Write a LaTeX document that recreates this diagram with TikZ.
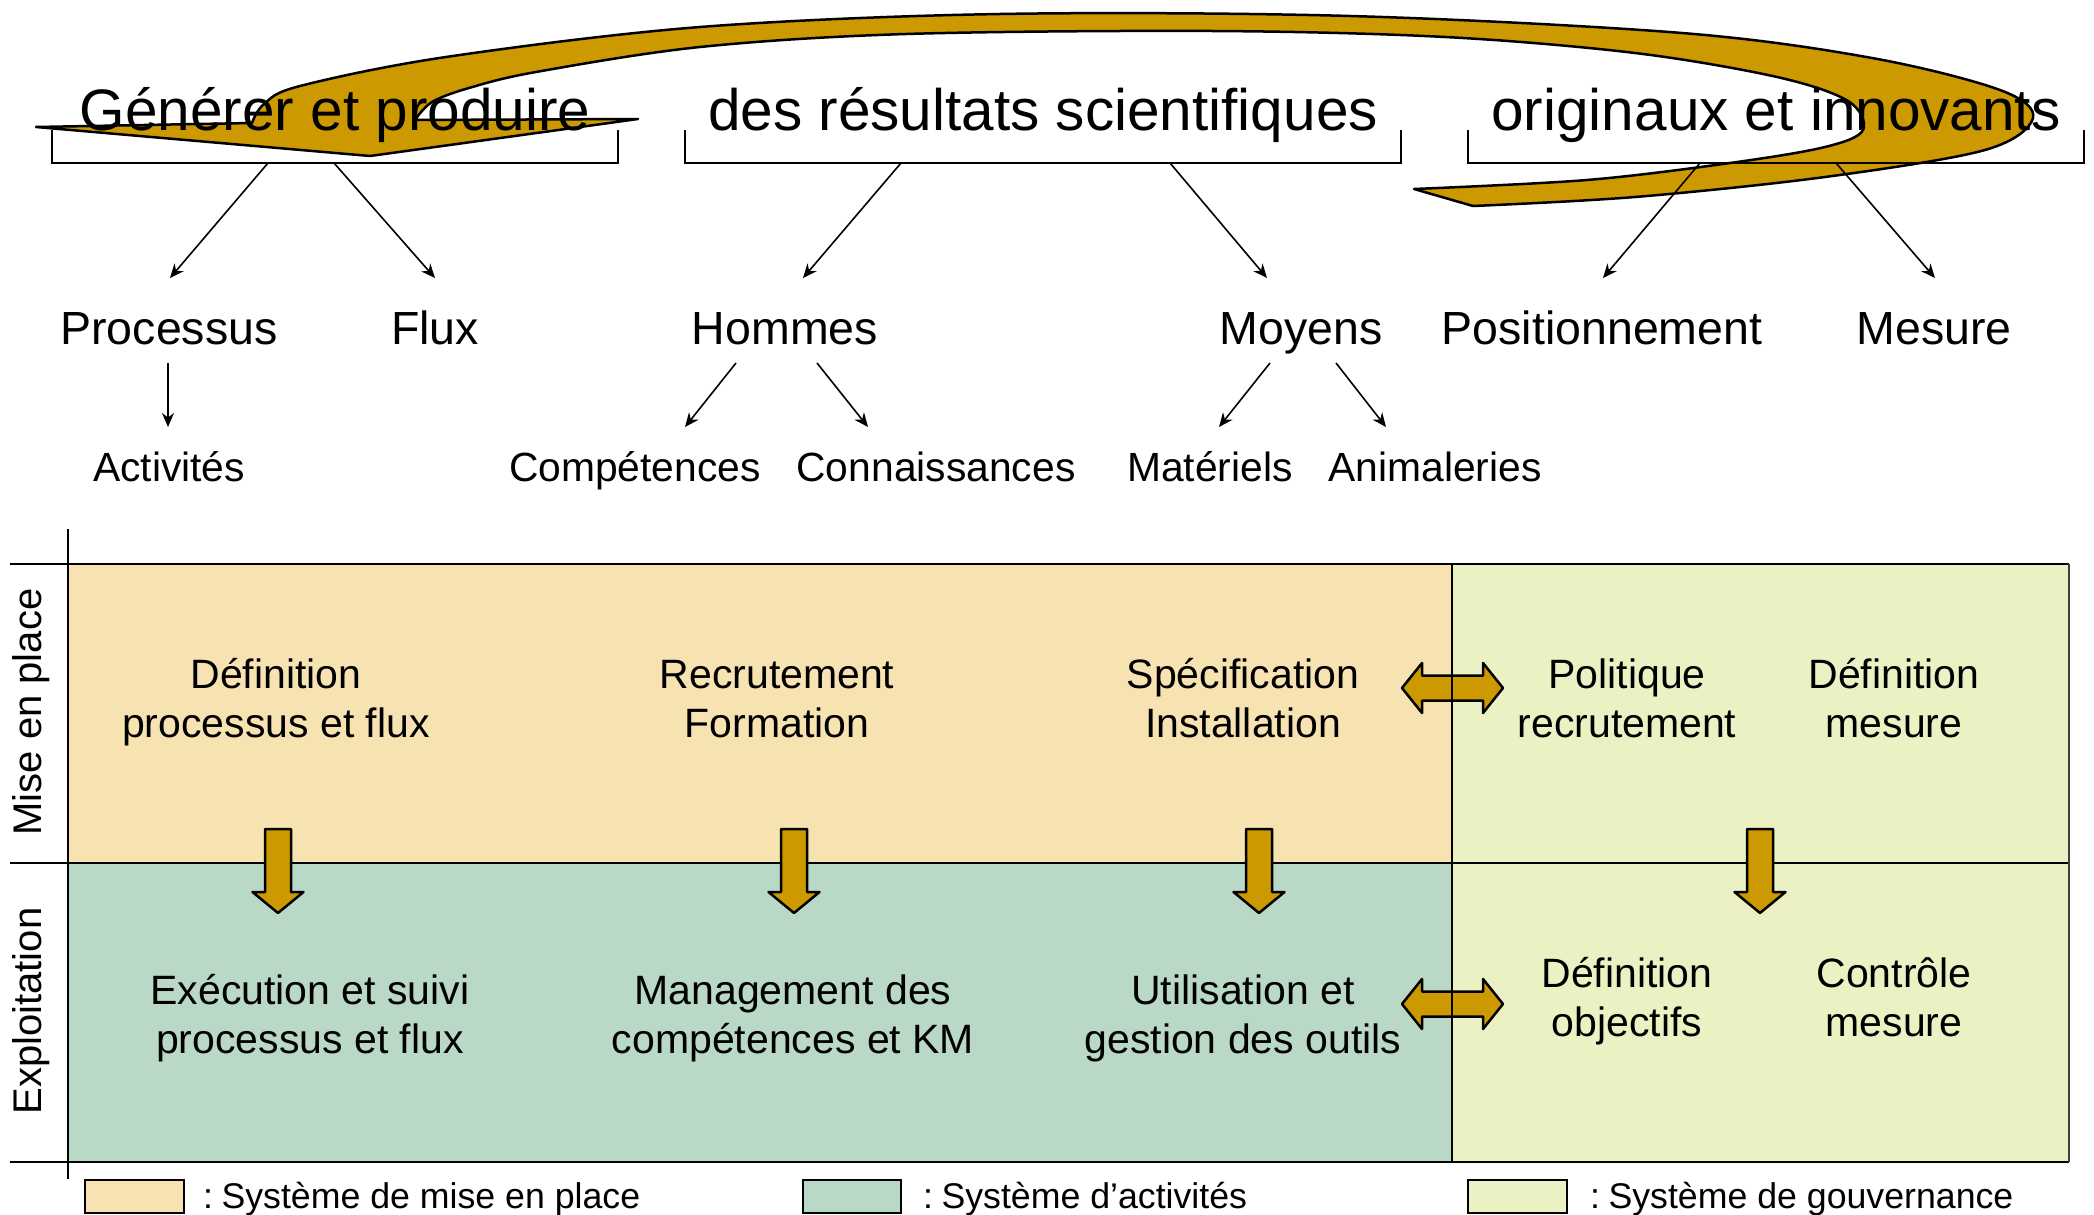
\documentclass[tikz,border=0pt]{standalone}
\usepackage{fontspec}
\setmainfont{Liberation Sans}
\usetikzlibrary{arrows.meta}
\definecolor{gold}{HTML}{CC9900}
\definecolor{orfill}{RGB}{247,226,178}
\definecolor{grfill}{RGB}{186,216,198}
\definecolor{ygfill}{RGB}{236,241,196}
\tikzset{
  titletext/.style={font=\fontsize{58.5}{70}\selectfont, anchor=base, inner sep=0},
  lvtwo/.style={font=\fontsize{46.5}{56}\selectfont, anchor=base, inner sep=0},
  lvthree/.style={font=\fontsize{40.8}{49}\selectfont, anchor=base, inner sep=0},
  celltext/.style={font=\fontsize{41}{49}\selectfont, align=center, anchor=base, inner sep=0},
  sidetext/.style={font=\fontsize{40}{48}\selectfont, rotate=90, inner sep=0},
  legtext/.style={font=\fontsize{35.7}{43}\selectfont, anchor=base west, inner sep=0},
  bracketline/.style={line width=2pt},
  thinarrow/.style={line width=1.6pt, -{Stealth[length=14pt,width=12pt]}},
  tableline/.style={line width=2.6pt},
  goldshape/.style={fill=gold, draw=black, line width=2.5pt, line join=round},
  legbox/.style={draw=black, line width=2pt},
}
\begin{document}
\begin{tikzpicture}[x=1pt,y=-1pt]
\useasboundingbox (0,0) rectangle (2094,1215);

% ---------- big curved arrow ----------
\draw[goldshape] (36,127) -- (252,123)
  -- plot[smooth, tension=0.55] coordinates {(252,123) (264,104) (300,86) (446,57) (700,27) (1000,14) (1350,16) (1682,33) (1872,58) (2000,90) (2033,118) (1985,150) (1825,177) (1635,197) (1473,206)}
  -- (1414,189)
  -- plot[smooth, tension=0.55] coordinates {(1414,189) (1587,180) (1730,163) (1825,147) (1863,130) (1848,101) (1777,77) (1635,53) (1445,37) (1212,31) (906,34) (700,47) (536,72) (469,88) (432,102) (415,120)}
  -- (638,119) -- (370,156) -- cycle;

% ---------- titles ----------
\node[titletext] (t1) at (335,130) {Générer et produire};
\node[titletext] (t2) at (1043,130) {des résultats scientifiques};
\node[titletext] (t3) at (1776,130) {originaux et innovants};

% brackets
\draw[bracketline] (52,130) |- (618,163) -- (618,130);
\draw[bracketline] (685,130) |- (1401,163) -- (1401,130);
\draw[bracketline] (1468,130) |- (2084,163) -- (2084,130);

% ---------- level 2 ----------
\node[lvtwo] (proc) at (169,344) {Processus};
\node[lvtwo] (flux) at (435,344) {Flux};
\node[lvtwo] (homm) at (785,344) {Hommes};
\node[lvtwo] (moy) at (1301,344) {Moyens};
\node[lvtwo] (pos) at (1602,344) {Positionnement};
\node[lvtwo] (mes) at (1934,344) {Mesure};

\coordinate (s1a) at (268,163); \coordinate (e1a) at (170,278);
\coordinate (s1b) at (334,163); \coordinate (e1b) at (435,278);
\coordinate (s2a) at (901,163); \coordinate (e2a) at (803,278);
\coordinate (s2b) at (1170,163); \coordinate (e2b) at (1267,278);
\coordinate (s3a) at (1700,163); \coordinate (e3a) at (1603,278);
\coordinate (s3b) at (1836,163); \coordinate (e3b) at (1935,278);
\draw[thinarrow] (s1a) -- (e1a);
\draw[thinarrow] (s1b) -- (e1b);
\draw[thinarrow] (s2a) -- (e2a);
\draw[thinarrow] (s2b) -- (e2b);
\draw[thinarrow] (s3a) -- (e3a);
\draw[thinarrow] (s3b) -- (e3b);

% ---------- level 3 ----------
\node[lvthree] (act) at (169,481) {Activités};
\node[lvthree] (comp) at (635,481) {Compétences};
\node[lvthree] (conn) at (936,481) {Connaissances};
\node[lvthree] (mat) at (1210,481) {Matériels};
\node[lvthree] (anim) at (1435,481) {Animaleries};

\coordinate (p1s) at (168,363); \coordinate (p1e) at (168,427);
\coordinate (h1s) at (736,363); \coordinate (h1e) at (685,427);
\coordinate (h2s) at (817,363); \coordinate (h2e) at (868,427);
\coordinate (m1s) at (1270,363); \coordinate (m1e) at (1219,427);
\coordinate (m2s) at (1336,363); \coordinate (m2e) at (1386,427);
\draw[thinarrow] (p1s) -- (p1e);
\draw[thinarrow] (h1s) -- (h1e);
\draw[thinarrow] (h2s) -- (h2e);
\draw[thinarrow] (m1s) -- (m1e);
\draw[thinarrow] (m2s) -- (m2e);

% ---------- table fills ----------
\fill[orfill] (68,564) rectangle (1452,863);
\fill[grfill] (68,863) rectangle (1452,1162);
\fill[ygfill] (1452,564) rectangle (2069,1162);

% table lines
\draw[tableline] (10,564) -- (2069,564);
\draw[tableline] (10,863) -- (2069,863);
\draw[tableline] (10,1162) -- (2069,1162);
\draw[tableline] (68,529) -- (68,1179);
\draw[tableline, draw=black!75] (2069,564) -- (2069,1162);

% side labels
\node[sidetext] (mep) at (31,712) {Mise en place};
\node[sidetext] (expl) at (31,1011) {Exploitation};

% down arrows
\foreach \cx in {278,794,1259,1760}{
  \draw[goldshape] (\cx-13,829) -- (\cx+13,829) -- (\cx+13,892) -- (\cx+25.5,892) -- (\cx,913) -- (\cx-25.5,892) -- (\cx-13,892) -- cycle;
}
% double arrows
\foreach \cy in {688,1004}{
  \draw[goldshape] (1402,\cy) -- (1422,\cy-25) -- (1422,\cy-12.5) -- (1483,\cy-12.5) -- (1483,\cy-25) -- (1503,\cy) -- (1483,\cy+25) -- (1483,\cy+12.5) -- (1422,\cy+12.5) -- (1422,\cy+25) -- cycle;
}
\draw[tableline] (1452,564) -- (1452,1162);

% cell texts (anchor = baseline of last line)
\node[celltext] (c11) at (276,737) {Définition\\processus et flux};
\node[celltext] (c12) at (777,737) {Recrutement\\Formation};
\node[celltext] (c13) at (1243,737) {Spécification\\Installation};
\node[celltext] (c14) at (1627,737) {Politique\\recrutement};
\node[celltext] (c15) at (1894,737) {Définition\\mesure};
\node[celltext] (c21) at (310,1053) {Exécution et suivi\\processus et flux};
\node[celltext] (c22) at (793,1053) {Management des\\compétences et KM};
\node[celltext] (c23) at (1243,1053) {Utilisation et\\gestion des outils};
\node[celltext] (c24) at (1627,1036) {Définition\\objectifs};
\node[celltext] (c25) at (1894,1036) {Contrôle\\mesure};

% legend
\filldraw[legbox, fill=orfill] (85,1180) rectangle (184,1213);
\filldraw[legbox, fill=grfill] (803,1180) rectangle (901,1213);
\filldraw[legbox, fill=ygfill] (1468,1180) rectangle (1567,1213);
\node[legtext] (l1) at (203,1208) {:\kern-1.5pt\ Système de mise en place};
\node[legtext] (l2) at (923,1208) {:\kern-1.5pt\ Système d’activités};
\node[legtext] (l3) at (1590,1208) {:\kern-1.5pt\ Système de gouvernance};
\end{tikzpicture}
\end{document}
